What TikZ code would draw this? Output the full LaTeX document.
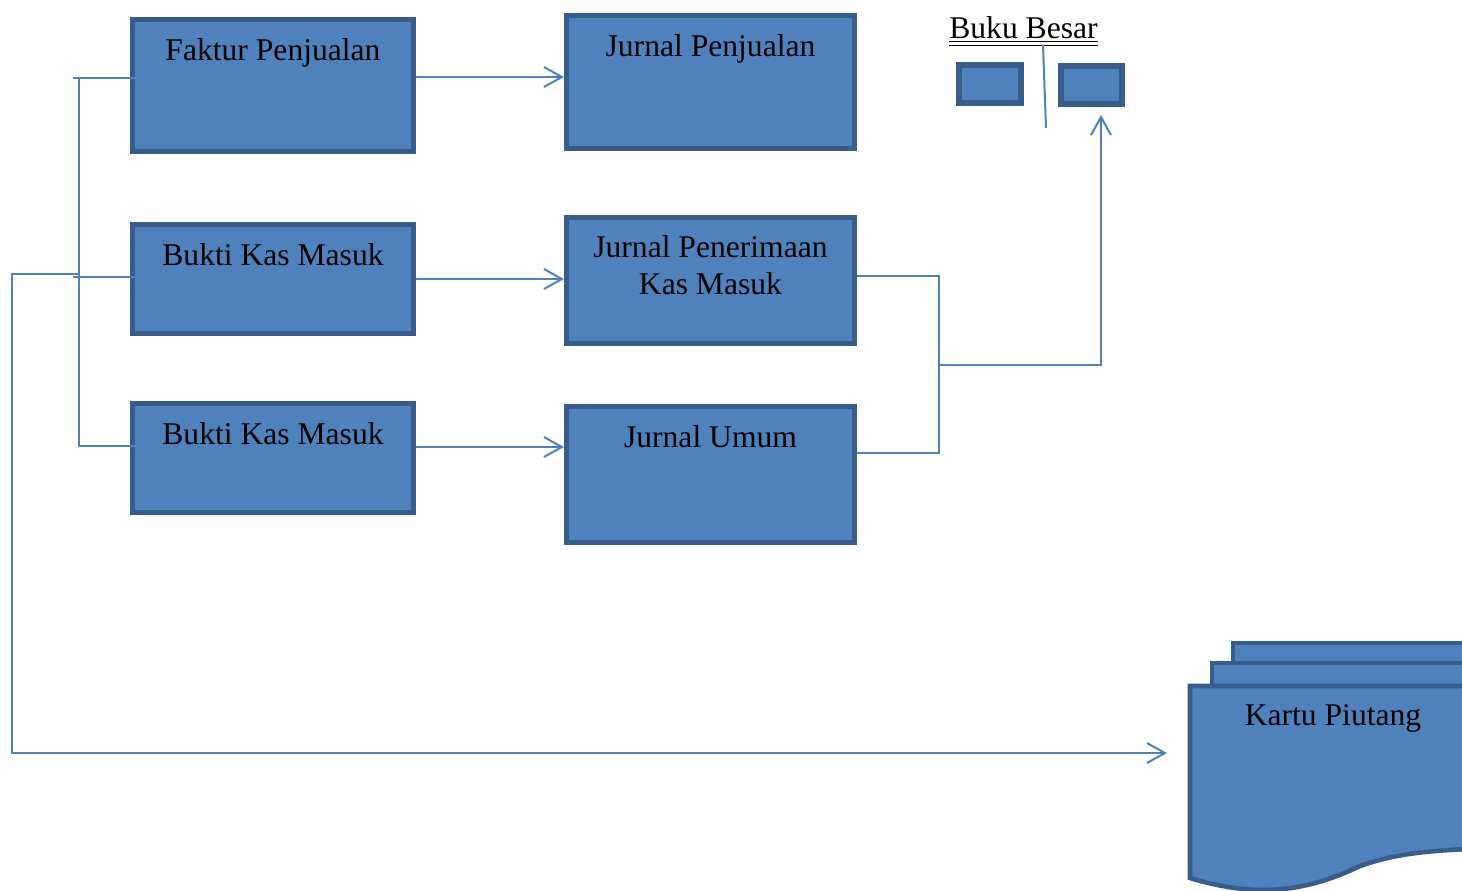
\documentclass[tikz,border=0pt]{standalone}
\usepackage{fontspec}
\setmainfont{Liberation Serif}
\usetikzlibrary{arrows.meta}
\definecolor{boxfill}{HTML}{4F81BD}
\definecolor{boxline}{HTML}{385D8A}
\tikzset{
    doc-box/.style = {draw=boxline, fill=boxfill, line width=2.3pt, rectangle, inner sep=0pt},
    wide-box/.style = {doc-box, minimum width=140.7pt},
    jurnal-box/.style = {doc-box, minimum width=144.2pt},
    small-box/.style = {doc-box, line width=2.8pt, minimum height=19.2pt},
    box-title/.style = {anchor=base, inner sep=0pt, font=\fontsize{15.8}{18.5}\selectfont, align=center},
    link/.style = {draw=boxfill, line width=1pt},
    flow/.style = {link, -{Straight Barb[length=9pt, width=10pt, line width=1pt]}},
}

\begin{document}
\begin{tikzpicture}[x=0.5pt, y=-0.5pt]
\useasboundingbox (0,0) rectangle (1462,890);

% dokumen sumber
\node [wide-box, minimum height=66.2pt] (fp) at (273,85.5) {};
\node [wide-box, minimum height=54.7pt] (bk1) at (273,279) {};
\node [wide-box, minimum height=54.7pt] (bk2) at (273,458) {};
\node [box-title] at ([yshift=-21.8pt]fp.north) {Faktur Penjualan};
\node [box-title] at ([yshift=-21.8pt]bk1.north) {Bukti Kas Masuk};
\node [box-title] at ([yshift=-21.8pt]bk2.north) {Bukti Kas Masuk};

% jurnal
\node [jurnal-box, minimum height=66.7pt] (jp) at (710.5,82) {};
\node [jurnal-box, minimum height=63.2pt] (jpk) at (710.5,280.5) {};
\node [jurnal-box, minimum height=68.2pt] (ju) at (710.5,474.5) {};
\node [box-title] at ([yshift=-21.8pt]jp.north) {Jurnal Penjualan};
\node [box-title] at ([yshift=-39.5pt]jpk.north) {Jurnal Penerimaan\\Kas Masuk};
\node [box-title] at ([yshift=-21.8pt]ju.north) {Jurnal Umum};

% buku besar
\node [box-title] (bb) at (1023.5,38) {\underline{\underline{Buku Besar}}};
\node [small-box, minimum width=31.2pt] (bb1) at (990,84) {};
\node [small-box, minimum width=30.7pt] (bb2) at (1091.5,85) {};
\coordinate (sep-a) at (1043,45);
\coordinate (sep-b) at (1046,128);
\draw [link] (sep-a) -- (sep-b);

% kartu piutang
\draw [doc-box] (1233,643) rectangle (1540,760);
\draw [doc-box] (1212,663) rectangle (1540,780);
\draw [doc-box] (1190,686) -- (1540,686) -- (1540,848)
    .. controls (1440,848) and (1400,852) .. (1360,866)
    .. controls (1300,895) and (1250,896) .. (1190,878) -- cycle;
\node [box-title] (kp) at (1333,725) {Kartu Piutang};
\coordinate (kp-in) at (1167,753);

% garis penghubung
\coordinate (t1) at (79,78);
\coordinate (t2) at (79,277);
\coordinate (t3) at (79,446);
\coordinate (s1) at (12,274);
\draw [link] ([xshift=-3pt]t1) -- ([xshift=12pt]fp.west |- t1);
\draw [link] ([xshift=-3pt]t2) -- ([xshift=6pt]bk1.west |- t2);
\draw [link] (t1) -- (t3) -- ([xshift=10pt]bk2.west |- t3);
\draw [flow] (t2 |- s1) -- (s1) -- (s1 |- kp-in) -- (kp-in);

\draw [flow] ([yshift=4.25pt]fp.east) -- ([yshift=4.25pt]fp.east -| jp.west);
\draw [flow] (bk1.east) -- (bk1.east -| jpk.west);
\draw [flow] ([yshift=5.5pt]bk2.east) -- ([yshift=5.5pt]bk2.east -| ju.west);

\coordinate (m) at (939,365);
\coordinate (bb-in) at ([xshift=4.75pt, yshift=-4pt]bb2.south);
\draw [link] ([yshift=2.25pt]jpk.east) -- ([yshift=2.25pt]jpk.east -| m)
    -- ([yshift=10.75pt]ju.east -| m) -- ([yshift=10.75pt]ju.east);
\draw [flow] (m) -- (m -| bb-in) -- (bb-in);
\end{tikzpicture}
\end{document}
